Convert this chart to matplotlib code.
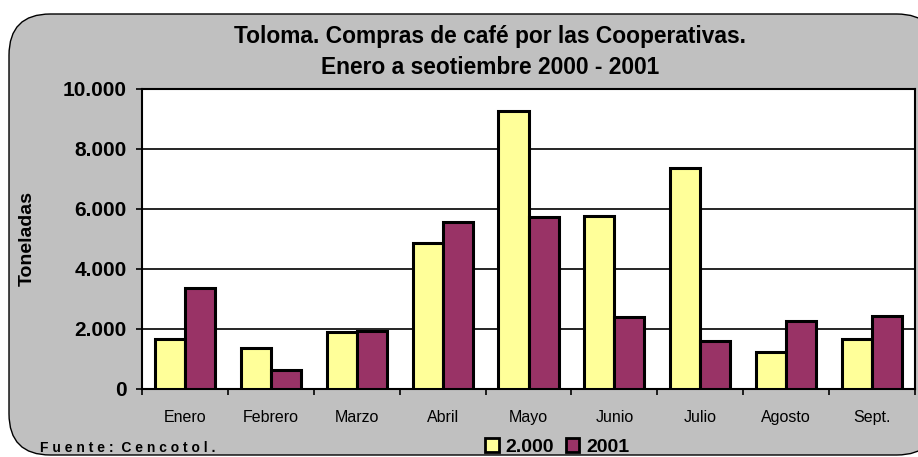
import numpy as np
import matplotlib
matplotlib.use("Agg")
from matplotlib import pyplot as plt
from matplotlib.patches import FancyBboxPatch, Patch

# data
meses = ["Enero", "Febrero", "Marzo", "Abril", "Mayo", "Junio", "Julio", "Agosto", "Sept."]
v2000 = [1670, 1370, 1900, 4870, 9280, 5780, 7360, 1230, 1670]
v2001 = [3370, 630, 1930, 5570, 5730, 2400, 1610, 2280, 2440]
yticks = [0, 2000, 4000, 6000, 8000, 10000]
ylabels = ["0", "2.000", "4.000", "6.000", "8.000", "10.000"]

plt.rcParams['font.family'] = ['Liberation Sans', 'DejaVu Sans']

W, H = 918, 457
fig = plt.figure(figsize=(W/100, H/100), dpi=100)
fig.patch.set_facecolor("white")

# grey rounded background
bg = FancyBboxPatch((9/W, 2/H), (W+20-9)/W, (H-14-2)/H,
                    boxstyle="round,pad=0,rounding_size=0.045",
                    transform=fig.transFigure, facecolor="#C0C0C0",
                    edgecolor="black", linewidth=1.0, mutation_aspect=W/H,
                    zorder=-5)
fig.patches.append(bg)

ax = fig.add_axes([142/W, 1-389/H, (915-142)/W, (389-89)/H])
ax.set_facecolor("white")

x = np.arange(len(meses))
w = 0.35
ax.bar(x - w/2, v2000, w, color="#FFFF99", edgecolor="black", linewidth=2.2, label="2.000", zorder=3)
ax.bar(x + w/2, v2001, w, color="#993366", edgecolor="black", linewidth=2.2, label="2001", zorder=3)

ax.set_xlim(-0.5, len(meses) - 0.5)
ax.set_ylim(0, 10000)
ax.set_yticks(yticks)
ax.set_yticklabels(ylabels, fontsize=15, fontweight="bold")
ax.set_xticks(x)
ax.set_xticklabels(meses, fontsize=11.5)
ax.tick_params(axis="x", length=0, pad=15)
ax.set_xticks(np.arange(-0.5, len(meses)), minor=True)
ax.tick_params(axis="x", which="minor", length=4, width=1.2, direction="out")
ax.tick_params(axis="y", length=4, width=1.2, direction="out", pad=7)
ax.grid(axis="y", color="black", linewidth=1.2, zorder=0)
for s in ax.spines.values():
    s.set_linewidth(1.5)

ax.set_ylabel("Toneladas", fontsize=14, fontweight="bold")
ax.yaxis.set_label_coords((36 - 142) / 773, 0.5)

fig.text(490/W, 1 - 36/H, "Toloma. Compras de café por las Cooperativas.",
         ha="center", va="center", fontsize=16.4, fontweight="bold")
fig.text(490/W, 1 - 67/H, "Enero a seotiembre 2000 - 2001",
         ha="center", va="center", fontsize=16.4, fontweight="bold")

fig.text(40/W, 1 - 448/H, "F u e n t e :  C e n c o t o l .", ha="left", va="center",
         fontsize=10, fontweight="bold")

handles = [Patch(facecolor="#FFFF99", edgecolor="black", linewidth=2.0),
           Patch(facecolor="#993366", edgecolor="black", linewidth=2.0)]
leg = fig.legend(handles, ["2.000", "2001"], loc="center", bbox_to_anchor=(557/W, 1 - 447/H),
                 ncol=2, frameon=False, handlelength=0.7, handleheight=0.7,
                 handletextpad=0.35, columnspacing=0.6, borderpad=0,
                 prop={"weight": "bold", "size": 14})

fig.savefig("out.png", dpi=100)
